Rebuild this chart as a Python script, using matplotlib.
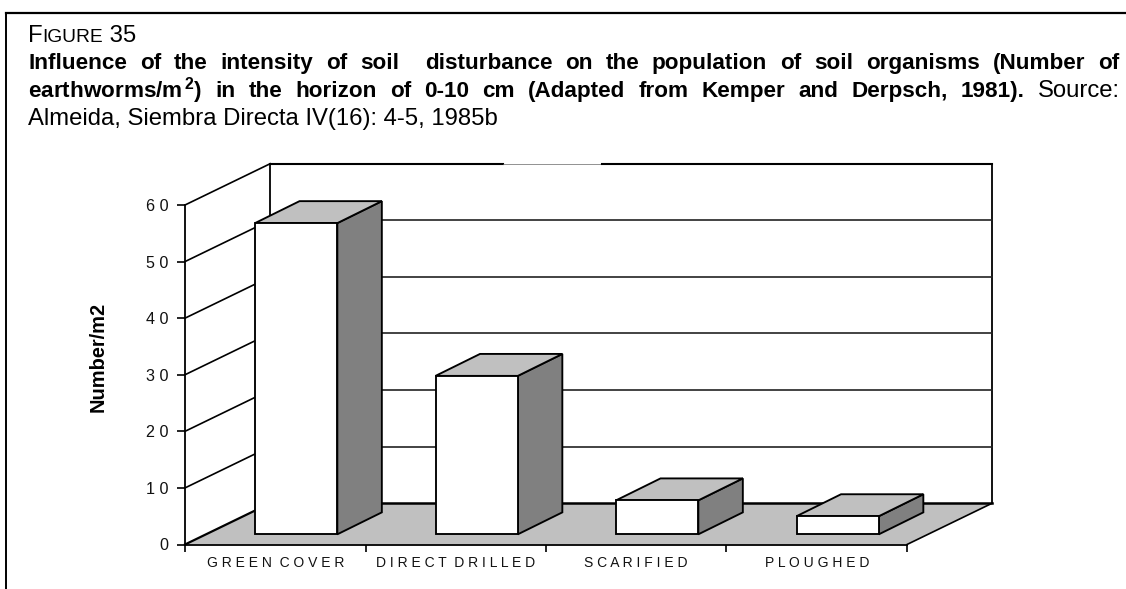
import matplotlib
matplotlib.use('Agg')
import matplotlib.pyplot as plt
from matplotlib.patches import Polygon

plt.rcParams['font.family'] = ['Liberation Sans', 'DejaVu Sans']
plt.rcParams['mathtext.fontset'] = 'custom'
plt.rcParams['mathtext.bf'] = 'Liberation Sans:bold'
plt.rcParams['mathtext.rm'] = 'Liberation Sans'

W, H = 1126, 589
categories = ['G R E E N  C O V E R', 'D I R E C T  D R I L L E D', 'S C A R I F I E D', 'P L O U G H E D']
values = [55, 28, 6, 3.2]
y_ticks = [0, 10, 20, 30, 40, 50, 60]
y_labels = ['0', '1 0', '2 0', '3 0', '4 0', '5 0', '6 0']

FLOOR = '#c0c0c0'
SIDE = '#808080'
# oblique depth of the box, in data units
depth_x, depth_y = 0.472, 7.3
bar_dx, bar_dy = 0.2465, 3.88
bar_off, bar_w = 0.388, 0.456
base = 1.8

fig = plt.figure(figsize=(W/100, H/100), dpi=100)
ax = fig.add_axes([185/W, (H-544.5)/H, (907-185)/W, (544.5-205)/H])
ax.set_xlim(0, 4)
ax.set_ylim(0, 60)
ax.patch.set_visible(False)
for s in ['top', 'right']:
    ax.spines[s].set_visible(False)
for s in ['left', 'bottom']:
    ax.spines[s].set_linewidth(1.3)

ax.set_yticks(y_ticks)
ax.set_yticklabels(y_labels, fontsize=11.6, color='#111111')
ax.tick_params(axis='y', length=5.8, width=1.2, pad=6.3)
ax.set_xticks(range(5))
ax.set_xticklabels([])
ax.tick_params(axis='x', which='major', length=5, width=1.2)
ax.set_xticks([i+0.5 for i in range(4)], minor=True)
ax.set_xticklabels(categories, minor=True, fontsize=10, color='#111111')
ax.tick_params(axis='x', which='minor', length=0, pad=8)

# floor and walls
ax.add_patch(Polygon([(0, 0), (4, 0), (4+depth_x, depth_y), (depth_x, depth_y)],
                     facecolor=FLOOR, edgecolor='none', clip_on=False, zorder=1))
ax.plot([0, depth_x], [0, depth_y], color='k', lw=1.6, clip_on=False, zorder=2)
ax.plot([4, 4+depth_x], [0, depth_y], color='k', lw=1.2, clip_on=False, zorder=2)
ax.plot([depth_x, 4+depth_x], [depth_y, depth_y], color='k', lw=1.8, clip_on=False, zorder=2)
ax.plot([depth_x, depth_x], [depth_y, 60+depth_y], color='k', lw=1.3, clip_on=False, zorder=2)
ax.plot([4+depth_x, 4+depth_x], [depth_y, 60+depth_y], color='k', lw=1.3, clip_on=False, zorder=2)
for t in y_ticks[1:]:
    ax.plot([0, depth_x], [t, t+depth_y], color='k', lw=1.2, clip_on=False, zorder=2)
    if t < 60:
        ax.plot([depth_x, 4+depth_x], [t+depth_y, t+depth_y], color='#222222', lw=1.2, clip_on=False, zorder=2)
# the top edge of the wall fades out for a stretch
xa = (503-185)/180.5
xb = (602-185)/180.5
ax.plot([depth_x, xa], [60+depth_y, 60+depth_y], color='k', lw=1.5, clip_on=False, zorder=2)
ax.plot([xa, xb], [60+depth_y, 60+depth_y], color='#666666', lw=0.5, clip_on=False, zorder=2)
ax.plot([xb, 4+depth_x], [60+depth_y, 60+depth_y], color='k', lw=1.5, clip_on=False, zorder=2)

# bars
for i, v in enumerate(values):
    x0 = i + bar_off
    x1 = x0 + bar_w
    y0 = base
    y1 = base + v
    ax.add_patch(Polygon([(x1, y0), (x1+bar_dx, y0+bar_dy), (x1+bar_dx, y1+bar_dy), (x1, y1)],
                         facecolor=SIDE, edgecolor='k', lw=1.35, clip_on=False, zorder=3))
    ax.add_patch(Polygon([(x0, y1), (x1, y1), (x1+bar_dx, y1+bar_dy), (x0+bar_dx, y1+bar_dy)],
                         facecolor=FLOOR, edgecolor='k', lw=1.35, clip_on=False, zorder=3))
    ax.add_patch(Polygon([(x0, y0), (x1, y0), (x1, y1), (x0, y1)],
                         facecolor='white', edgecolor='k', lw=1.35, clip_on=False, zorder=4))

fig.text(98/W, 1-357/H, 'Number/m2', rotation=90, fontsize=14.4, fontweight='bold',
         ha='center', va='center')

# frame: only top and left
fig.add_artist(plt.Line2D([6/W, 6/W], [0, 1-13/H], color='k', lw=1.4))
fig.add_artist(plt.Line2D([6/W, 1], [1-13/H, 1-13/H], color='k', lw=1.6))

# header text
FS = 17.2
FS_BOLD = 16.2
rend = fig.canvas.get_renderer()


def width(t):
    return t.get_window_extent(rend).width


def put(s, x, y, weight='normal', size=FS):
    return fig.text(x/W, 1-y/H, s, fontsize=size, fontweight=weight, ha='left', va='baseline')


def run(parts, x, y):
    # pieces side by side, no justification
    for s, weight, size in parts:
        t = put(s, x, y, weight, size)
        x += width(t)


def justified(words, x0, x1, y):
    # words = (text, weight); an empty text makes a double gap
    items = [(put(s, 0, y, w, FS_BOLD if w == 'bold' else FS), s) for s, w in words]
    total = sum(width(t) for t, s in items if s)
    gap = (x1-x0-total)/(len(items)-1)
    x = x0
    for t, s in items:
        t.set_x(x/W)
        if s:
            x += width(t)
        x += gap


def bold(s):
    return [(w, 'bold') for w in s.split(' ')]


run([('F', 'normal', FS), ('IGURE', 'normal', FS*0.8), ('\u00a035', 'normal', FS)], 28, 42)
justified(bold('Influence of the intensity of soil  disturbance on the population of soil organisms (Number of'),
          28, 1119, 69)
justified(bold(r'earthworms/m$\mathbf{^{\,2}}$) in the horizon of 0-10 cm (Adapted from Kemper and Derpsch, 1981).')
          + [('Source:', 'normal')], 28, 1120, 97)
put('Almeida, Siembra Directa IV(16): 4-5, 1985b', 28, 125)

fig.savefig('out.png', dpi=100)
